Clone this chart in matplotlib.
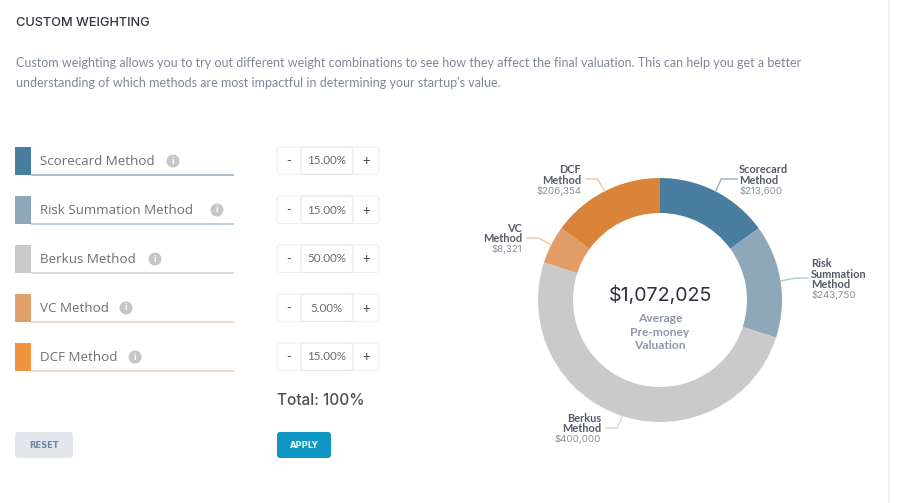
import matplotlib
matplotlib.use("Agg")
import matplotlib.pyplot as plt
import numpy as np
from matplotlib.patches import Circle, FancyBboxPatch, Rectangle

# values
methods = ["Scorecard Method", "Risk Summation Method", "Berkus Method", "VC Method", "DCF Method"]
weights = [15, 15, 50, 5, 15]
weight_labels = ["15.00%", "15.00%", "50.00%", "5.00%", "15.00%"]
amount_labels = ["$213,600", "$243,750", "$400,000", "$8,321", "$206,354"]
callout_names = ["Scorecard\nMethod", "Risk\nSummation\nMethod", "Berkus\nMethod", "VC\nMethod", "DCF\nMethod"]
total_label = "$1,072,025"

pie_colors = ["#487da0", "#8ea8b9", "#cacaca", "#e19c67", "#da843a"]
swatch_colors = ["#487da0", "#8ea8b9", "#cacaca", "#e0a06c", "#f2933f"]
line_colors = ["#9db8c8", "#b4c7d3", "#d4d4d4", "#f0d2b4", "#f0d2b4"]
leader_colors = ["#8fb0c4", "#b4c7d3", "#d8d8d8", "#eec4a0", "#eec4a0"]

BODY = ["Lato", "DejaVu Sans"]
ROW = ["Open Sans", "DejaVu Sans"]
HEAD = ["Inter", "DejaVu Sans"]
PX = 0.72  # px to pt at dpi 100

W, H = 898, 503
fig = plt.figure(figsize=(W / 100, H / 100), dpi=100, facecolor="white")
ax = fig.add_axes([0, 0, 1, 1], zorder=2)
ax.set_xlim(0, W)
ax.set_ylim(H, 0)
ax.axis("off")


def rbox(x0, y0, x1, y1, fc, ec, r=3, lw=0.8, z=2):
    ax.add_patch(FancyBboxPatch((x0 + r, y0 + r), x1 - x0 - 2 * r, y1 - y0 - 2 * r,
                                boxstyle=f"round,pad={r},rounding_size={r}",
                                fc=fc, ec=ec, lw=lw, zorder=z))


# header
ax.text(15.5, 23, "CUSTOM WEIGHTING", fontsize=12.8 * PX, family=HEAD, color="#30343f",
        va="center", weight="medium")
ax.text(15.5, 62.5, "Custom weighting allows you to try out different weight combinations to see how they "
        "affect the final valuation. This can help you get a better",
        fontsize=12.56 * PX, family=BODY, color="#7f879a", va="center")
ax.text(15.5, 82.5, "understanding of which methods are most impactful in determining your startup's value.",
        fontsize=12.56 * PX, family=BODY, color="#7f879a", va="center")
ax.plot([888.5, 888.5], [0, H], color="#f0f0f2", lw=1.2)

# weight rows
info_x = [173, 217, 155, 126, 135]
for i, name in enumerate(methods):
    top = 147 + 49 * i
    mid = top + 14
    ax.add_patch(Rectangle((15, top), 16, 28, fc=swatch_colors[i], ec="none"))
    ax.plot([31, 234], [top + 27.5, top + 27.5], color=line_colors[i], lw=1.2, solid_capstyle="butt")
    ax.text(39.5, mid + 0.8, name, fontsize=13.4 * PX, family=ROW, color="#6c7076", va="center")
    ax.add_patch(Circle((info_x[i], mid), 6.5, fc="#c6c6c6", ec="none", zorder=2))
    ax.text(info_x[i], mid, "i", fontsize=10.5 * PX, family=BODY, color="white", va="center", ha="center",
            weight="bold", zorder=3)

    rbox(277, top, 379, top + 27.5, "white", "#eeeeee", z=2)
    rbox(301, top, 353, top + 27.5, "white", "#e6e6e6", z=3)
    ax.text(289, mid + 0.5, "-", fontsize=13 * PX, family=BODY, color="#555555", va="center", ha="center")
    ax.text(366.5, mid + 0.5, "+", fontsize=13 * PX, family=BODY, color="#444444", va="center", ha="center")
    ax.text(327, mid, weight_labels[i], fontsize=11.6 * PX, family=BODY, color="#666b70",
            va="center", ha="center", zorder=4)

ax.text(277, 400.5, "Total: 100%", fontsize=15.4 * PX, family=HEAD, color="#4a4d55", va="center", weight="medium")

# buttons
rbox(15, 432, 73, 458, "#e4e7ec", "none", lw=0, r=3)
ax.text(44.5, 445, "RESET", fontsize=8.4 * PX, family="DejaVu Sans", color="#6b8aa3", va="center", ha="center",
        weight="bold")
rbox(277, 432, 331, 458, "#0f97c4", "none", lw=0, r=3)
ax.text(304.5, 445, "APPLY", fontsize=8.4 * PX, family="DejaVu Sans", color="#e6f6fb", va="center", ha="center",
        weight="bold")

# donut
cx, cy, R = 660, 300, 122
pie_ax = fig.add_axes([(cx - R) / W, (H - cy - R) / H, 2 * R / W, 2 * R / H], zorder=1)
pie_ax.pie(weights, colors=pie_colors, startangle=90, counterclock=False, radius=1,
           wedgeprops={"width": 35 / 122, "linewidth": 0})
pie_ax.set_xlim(-1, 1)
pie_ax.set_ylim(-1, 1)

ax.text(cx, 295, total_label, fontsize=19.6 * PX, family=HEAD, color="#2c303a", va="center", ha="center")
for y, s in zip([318, 332, 345.5], ["Average", "Pre-money", "Valuation"]):
    ax.text(cx, y, s, fontsize=12 * PX, family=BODY, color="#8f97ab", va="center", ha="center", weight="bold")

# callouts: leader starts at the middle of its slice, then an elbow to the text
mids = (np.cumsum(weights) - np.array(weights) / 2) / sum(weights) * 2 * np.pi
elbows = [(6, 179, 737), (16, 278, 808), (-5, 428, 606), (-13, 238, 527), (-7, 179, 586)]
name_pos = [(739, 169.5, "left"), (811, 263.5, "left"), (601, 418, "right"), (522, 228, "right"), (581, 169.5, "right")]
for i in range(len(methods)):
    sx = cx + R * np.sin(mids[i])
    sy = cy - R * np.cos(mids[i])
    dx, ey, ex = elbows[i]
    ax.plot([sx, sx + dx, ex], [sy, ey, ey], color=leader_colors[i], lw=1.0, zorder=2)

    x, y, ha = name_pos[i]
    lines = callout_names[i].split("\n")
    for k, ln in enumerate(lines):
        t = ax.text(x, y + k * 10.5, ln, fontsize=11 * PX, family=BODY, color="#555968", va="center", ha=ha,
                    weight="bold")
        t.set_clip_path(Rectangle((0, 0), 869, H, transform=ax.transData))
    ax.text(x, y + len(lines) * 10.5 + 0.5, amount_labels[i], fontsize=9.7 * PX, family=HEAD, color="#8b8f98",
            va="center", ha=ha)

fig.savefig("out.png", dpi=100, facecolor="white")
